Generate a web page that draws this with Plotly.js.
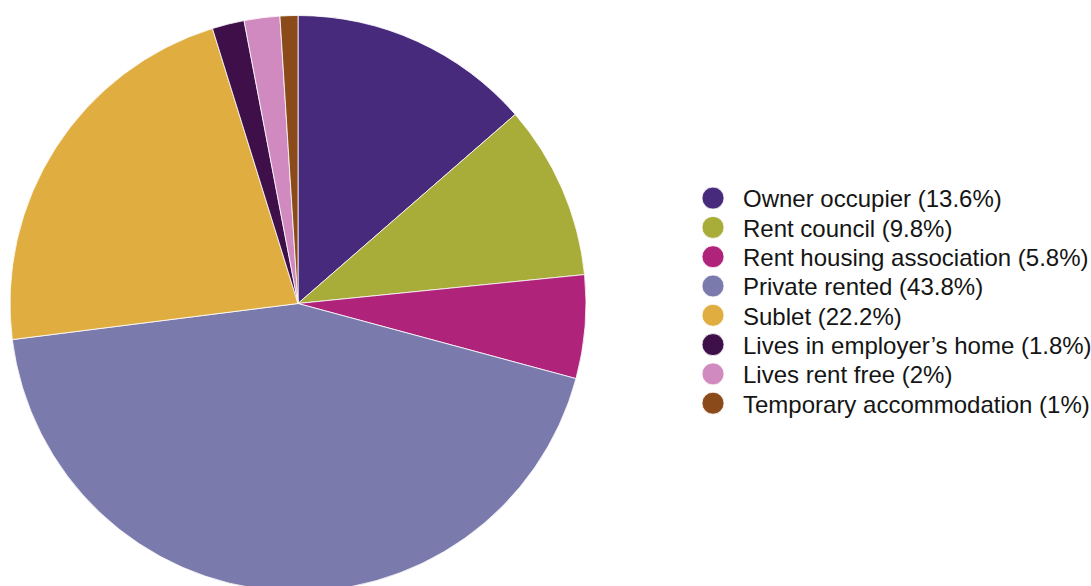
<!DOCTYPE html>
<html>
<head>
<meta charset="utf-8">
<script src="https://cdn.plot.ly/plotly-3.0.1.min.js"></script>
<style>
html,body{margin:0;padding:0;background:#fff;overflow:hidden;}
#chart{width:1130px;height:596px;}
.legend .legendpie{ d: path("M11,0A11,11 0 1,1 -11,0A11,11 0 1,1 11,0Z"); }
</style>
</head>
<body>
<div id="chart"></div>
<script>
const categories = ["Owner occupier", "Rent council", "Rent housing association", "Private rented", "Sublet", "Lives in employer\u2019s home", "Lives rent free", "Temporary accommodation"];
const values = [13.6, 9.8, 5.8, 43.8, 22.2, 1.8, 2, 1];
const colors = ["#472a7c", "#a8ad3a", "#b0237a", "#7a7aad", "#e0ad40", "#3f0f4a", "#d08ac0", "#8a4a1a"];

const labels = categories.map((c, i) => c + " (" + values[i] + "%)");

const W = 1130, H = 596;
Plotly.newPlot("chart", [{
  type: "pie",
  labels: labels,
  values: values,
  marker: {colors: colors, line: {color: "#ffffff", width: 0.8}},
  sort: false,
  direction: "clockwise",
  rotation: 0,
  textinfo: "none",
  hoverinfo: "label",
  domain: {x: [10 / W, 586 / W], y: [4 / H, (H - 15) / H]}
}], {
  width: W, height: H,
  margin: {l: 0, r: 0, t: 0, b: 0},
  paper_bgcolor: "#ffffff",
  showlegend: true,
  legend: {
    x: 683 / W, xanchor: "left",
    y: (H - 176) / H, yanchor: "top",
    font: {family: "Liberation Sans, Arial, sans-serif", size: 24, color: "#151515"},
    tracegroupgap: 0, itemwidth: 50
  }
}, {displayModeBar: false, staticPlot: true}).then(function (gd) {
  // tighten legend row spacing to match the reference
  const rows = gd.querySelectorAll(".legend .traces");
  if (!rows.length) return;
  const m = /translate\(\s*([-\d.]+)[ ,]+([-\d.]+)/.exec(rows[0].getAttribute("transform") || "");
  const y0 = m ? parseFloat(m[2]) : 0;
  rows.forEach(function (r, i) {
    r.setAttribute("transform", "translate(0," + (y0 + i * 29.3) + ")");
  });
});
</script>
</body>
</html>
